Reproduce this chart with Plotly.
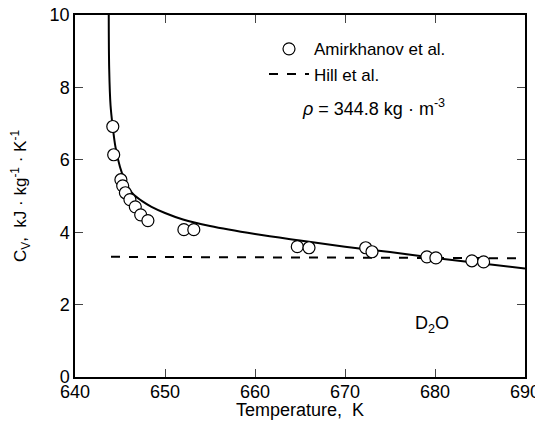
import plotly.graph_objects as go

# Measured points (Amirkhanov et al.)
amir_T = [644.2, 644.3, 645.1, 645.3, 645.6, 646.1, 646.7, 647.3, 648.1,
          652.1, 653.2, 664.7, 666.0, 672.3, 673.0, 679.1, 680.1, 684.1, 685.4]
amir_cv = [6.92, 6.14, 5.45, 5.28, 5.09, 4.90, 4.70, 4.48, 4.32,
           4.07, 4.07, 3.60, 3.57, 3.57, 3.46, 3.32, 3.29, 3.21, 3.18]

# Solid curve
curve_T = [643.75, 643.8, 643.95, 644.2, 644.5, 645.0, 645.5, 646.0, 646.5, 647.5,
           648.5, 650.0, 652.0, 655.0, 660.0, 665.0, 670.0, 675.0, 680.0, 685.0, 690.0]
curve_cv = [10.0, 8.5, 7.5, 6.9, 6.35, 5.8, 5.45, 5.2, 5.04, 4.85,
            4.7, 4.53, 4.35, 4.17, 3.95, 3.77, 3.6, 3.45, 3.29, 3.14, 3.0]

# Dashed line (Hill et al.)
hill_T = [644.0, 690.0]
hill_cv = [3.32, 3.28]

x_ticks = [640, 650, 660, 670, 680, 690]
y_ticks = [0, 2, 4, 6, 8, 10]

FONT = "Liberation Sans"

fig = go.Figure()
fig.add_trace(go.Scatter(x=curve_T, y=curve_cv, mode="lines",
                         line=dict(color="black", width=2), showlegend=False,
                         line_shape="spline"))
fig.add_trace(go.Scatter(x=hill_T, y=hill_cv, mode="lines", name="Hill et al.",
                         line=dict(color="black", width=2, dash="dash")))
fig.add_trace(go.Scatter(x=amir_T, y=amir_cv, mode="markers", name="Amirkhanov et al.",
                         marker=dict(symbol="circle", size=12, color="white",
                                     line=dict(color="black", width=1.2))))

fig.update_layout(
    width=535, height=412,
    margin=dict(l=67, r=18, t=7, b=43),
    paper_bgcolor="white", plot_bgcolor="white",
    font=dict(family=FONT, size=17, color="black"),
    legend=dict(x=0.42, y=0.955, xanchor="left", yanchor="top",
                bgcolor="rgba(0,0,0,0)", traceorder="reversed",
                font=dict(size=17), itemwidth=40, tracegroupgap=4),
    xaxis=dict(range=[640, 690], tickvals=x_ticks, ticks="inside", ticklen=8,
               showline=True, linecolor="black", linewidth=1.5, mirror="ticks",
               showgrid=False, zeroline=False, tickfont=dict(size=18),
               automargin=False, ticklabeloverflow="allow", ticklabelstandoff=-2,
               title=dict(text="Temperature,  K", font=dict(size=18), standoff=11)),
    yaxis=dict(range=[0, 10], tickvals=y_ticks, ticks="inside", ticklen=8,
               showline=True, linecolor="black", linewidth=1.5, mirror="ticks",
               showgrid=False, zeroline=False, tickfont=dict(size=18),
               automargin=False, ticklabeloverflow="allow",
               title=dict(text="C<sub>V</sub>,  kJ · kg<sup>-1</sup> · K<sup>-1</sup>",
                          font=dict(size=17), standoff=26)),
)

fig.add_annotation(x=0.5, y=0.783, xref="paper", yref="paper", xanchor="left",
                   showarrow=False, font=dict(size=18),
                   text="<i>ρ</i> = 344.8 kg · m<sup>-3</sup>")
fig.add_annotation(x=0.75, y=0.108, xref="paper", yref="paper", xanchor="left",
                   showarrow=False, font=dict(size=18),
                   text="D<sub>2</sub>O")

fig.write_html("out.html")
